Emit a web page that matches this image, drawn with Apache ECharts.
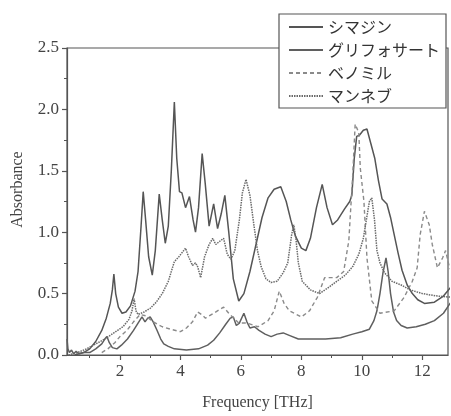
<!DOCTYPE html>
<html>
<head>
<meta charset="utf-8">
<script src="https://cdn.jsdelivr.net/npm/echarts@6/dist/echarts.min.js"></script>
<style>
html,body{margin:0;padding:0;background:#fff;}
#chart{width:451px;height:416px;}
</style>
</head>
<body>
<div id="chart"></div>
<script>
// Series names (legend order)
const seriesNames = ['シマジン', 'グリフォサート', 'ベノミル', 'マンネブ'];

// Tick values
const xMajorTicks = [2, 4, 6, 8, 10, 12];
const xMinorTicks = [1, 3, 5, 7, 9, 11];
const xRange = [0.25, 12.85];
const yRange = [0, 2.5];

// [frequency THz, absorbance]
const simazine = [
  [0.5,0.0],[0.8,0.02],[1.0,0.05],[1.2,0.11],[1.4,0.2],[1.55,0.3],[1.68,0.42],[1.75,0.53],[1.8,0.66],
  [1.86,0.5],[1.95,0.39],[2.07,0.34],[2.2,0.35],[2.35,0.4],[2.5,0.52],[2.6,0.68],[2.7,1.05],[2.77,1.33],
  [2.85,1.1],[2.95,0.8],[3.07,0.65],[3.17,0.85],[3.3,1.31],[3.4,1.1],[3.5,0.91],[3.6,1.05],[3.7,1.5],
  [3.8,2.06],[3.88,1.6],[3.97,1.33],[4.05,1.32],[4.17,1.2],[4.3,1.29],[4.42,1.1],[4.5,1.0],[4.6,1.2],
  [4.72,1.64],[4.82,1.4],[4.95,1.05],[5.1,1.23],[5.23,1.03],[5.35,1.15],[5.47,1.3],[5.6,1.0],[5.75,0.62],
  [5.93,0.44],[6.1,0.5],[6.3,0.68],[6.5,0.9],[6.7,1.12],[6.9,1.28],[7.1,1.35],[7.32,1.37],[7.5,1.25],
  [7.65,1.1],[7.8,0.97],[8.0,0.87],[8.15,0.85],[8.3,0.95],[8.5,1.2],[8.69,1.39],[8.85,1.2],[9.03,1.06],
  [9.2,1.1],[9.43,1.19],[9.6,1.25],[9.67,1.3],[9.75,1.6],[9.83,1.78],[9.92,1.79],[10.05,1.83],[10.17,1.84],
  [10.3,1.72],[10.43,1.6],[10.55,1.42],[10.67,1.27],[10.83,1.23],[10.95,1.12],[11.07,0.98],[11.2,0.83],
  [11.33,0.69],[11.5,0.57],[11.67,0.5],[11.85,0.45],[12.07,0.42],[12.4,0.43],[12.7,0.48],[13.0,0.57]
];
const glyphosate = [
  [0.25,0.13],[0.28,0.05],[0.33,0.02],[0.4,0.04],[0.47,0.01],[0.55,0.03],[0.65,0.01],[0.8,0.02],[1.0,0.02],
  [1.2,0.05],[1.4,0.09],[1.5,0.13],[1.57,0.15],[1.65,0.1],[1.75,0.06],[1.9,0.05],[2.05,0.08],[2.25,0.13],
  [2.45,0.2],[2.6,0.26],[2.73,0.31],[2.83,0.27],[2.92,0.3],[3.0,0.31],[3.1,0.27],[3.23,0.2],[3.35,0.13],
  [3.45,0.09],[3.6,0.07],[3.8,0.05],[4.2,0.04],[4.6,0.05],[4.9,0.08],[5.1,0.12],[5.3,0.18],[5.5,0.25],
  [5.65,0.3],[5.75,0.31],[5.85,0.24],[5.95,0.26],[6.1,0.34],[6.2,0.27],[6.3,0.22],[6.45,0.23],[6.6,0.2],
  [6.8,0.17],[7.0,0.15],[7.2,0.17],[7.4,0.18],[7.6,0.16],[7.9,0.13],[8.3,0.13],[8.8,0.13],[9.3,0.14],
  [9.7,0.17],[10.0,0.19],[10.25,0.21],[10.4,0.28],[10.5,0.36],[10.6,0.5],[10.7,0.67],[10.8,0.79],
  [10.87,0.68],[10.95,0.5],[11.05,0.35],[11.15,0.28],[11.3,0.24],[11.5,0.22],[11.8,0.23],[12.1,0.25],
  [12.4,0.28],[12.7,0.34],[13.0,0.45]
];
const benomyl = [
  [1.4,0.02],[1.6,0.05],[1.83,0.1],[2.0,0.15],[2.23,0.2],[2.45,0.27],[2.67,0.33],[2.85,0.32],[3.1,0.27],
  [3.4,0.23],[3.67,0.21],[4.0,0.19],[4.2,0.22],[4.4,0.27],[4.57,0.35],[4.7,0.33],[4.83,0.3],[5.1,0.34],
  [5.43,0.39],[5.6,0.34],[5.93,0.26],[6.2,0.26],[6.57,0.23],[6.9,0.28],[7.1,0.36],[7.27,0.52],[7.43,0.42],
  [7.6,0.36],[8.0,0.31],[8.27,0.36],[8.53,0.47],[8.77,0.63],[9.17,0.63],[9.4,0.68],[9.57,0.93],[9.7,1.47],
  [9.78,1.88],[9.9,1.81],[9.95,1.52],[10.07,1.25],[10.17,0.79],[10.33,0.44],[10.6,0.34],[11.07,0.36],
  [11.4,0.47],[11.67,0.6],[11.83,0.71],[11.93,0.98],[12.07,1.17],[12.23,1.06],[12.33,0.9],[12.5,0.71],
  [12.67,0.79],[12.77,0.85],[12.9,0.71],[13.0,0.68]
];
const maneb = [
  [0.3,0.0],[0.6,0.02],[0.9,0.05],[1.2,0.09],[1.5,0.13],[1.8,0.18],[2.1,0.23],[2.3,0.29],[2.4,0.36],
  [2.47,0.46],[2.53,0.36],[2.6,0.33],[2.8,0.35],[3.0,0.38],[3.2,0.43],[3.4,0.5],[3.6,0.6],[3.7,0.68],
  [3.8,0.76],[3.95,0.8],[4.17,0.87],[4.27,0.8],[4.4,0.73],[4.5,0.75],[4.57,0.72],[4.67,0.63],[4.8,0.8],
  [4.95,0.9],[5.07,0.95],[5.17,0.9],[5.27,0.92],[5.43,0.95],[5.55,0.82],[5.67,0.78],[5.8,0.85],[5.95,1.1],
  [6.05,1.32],[6.17,1.43],[6.3,1.3],[6.43,1.06],[6.55,0.85],[6.67,0.72],[6.83,0.62],[7.0,0.59],[7.2,0.6],
  [7.4,0.67],[7.55,0.75],[7.68,0.98],[7.75,1.06],[7.82,0.95],[7.9,0.75],[8.03,0.6],[8.3,0.53],[8.6,0.5],
  [8.9,0.55],[9.17,0.6],[9.45,0.65],[9.7,0.72],[9.9,0.82],[10.05,0.95],[10.15,1.1],[10.25,1.25],
  [10.33,1.28],[10.42,1.1],[10.5,0.85],[10.6,0.75],[10.75,0.67],[11.0,0.6],[11.3,0.57],[11.6,0.53],
  [12.0,0.5],[12.5,0.48],[13.0,0.47]
];

const serif = 'Liberation Serif';
const axisColor = '#555';

const chart = echarts.init(document.getElementById('chart'), null, {renderer: 'canvas'});
chart.setOption({
  backgroundColor: '#fff',
  animation: false,
  grid: {left: 67, right: 3, top: 48, bottom: 61, show: true, borderColor: axisColor, borderWidth: 1.2, backgroundColor: 'transparent'},
  legend: {
    orient: 'vertical', left: 279, top: 14, padding: [5, 6, 4, 9], itemGap: 7,
    itemWidth: 34, itemHeight: 14,
    backgroundColor: '#fff', borderColor: axisColor, borderWidth: 1.2,
    itemStyle: {opacity: 0},
    textStyle: {fontFamily: 'Noto Sans CJK JP', fontSize: 16, color: '#333', lineHeight: 16},
    data: seriesNames
  },
  xAxis: [{
    type: 'value', min: xRange[0], max: xRange[1],
    name: 'Frequency [THz]', nameLocation: 'middle', nameGap: 40,
    nameTextStyle: {fontFamily: serif, fontSize: 16, color: '#444'},
    axisLine: {show: true, onZero: false, lineStyle: {color: axisColor, width: 1.2}},
    axisTick: {show: true, length: 5, customValues: xMajorTicks, lineStyle: {color: axisColor, width: 1.2}},
    axisLabel: {customValues: xMajorTicks, fontFamily: serif, fontSize: 17, color: '#444', margin: 8},
    splitLine: {show: false}
  }, {
    type: 'value', min: xRange[0], max: xRange[1], position: 'bottom',
    axisLine: {show: false},
    axisTick: {show: true, length: 3, customValues: xMinorTicks, lineStyle: {color: axisColor, width: 1}},
    axisLabel: {show: false},
    splitLine: {show: false}
  }],
  yAxis: {
    type: 'value', min: yRange[0], max: yRange[1], interval: 0.5,
    name: 'Absorbance', nameLocation: 'middle', nameGap: 41,
    nameTextStyle: {fontFamily: serif, fontSize: 16, color: '#444', padding: [0, 0, 0, 24]},
    axisLine: {show: true, lineStyle: {color: axisColor, width: 1.2}},
    axisTick: {show: true, length: 5, lineStyle: {color: axisColor, width: 1.2}},
    minorTick: {show: true, splitNumber: 2, length: 3, lineStyle: {color: axisColor, width: 1}},
    axisLabel: {fontFamily: serif, fontSize: 17, color: '#444', margin: 8, formatter: v => v.toFixed(1)},
    splitLine: {show: false}
  },
  series: [
    {name: seriesNames[0], type: 'line', data: simazine, showSymbol: false, symbol: 'none',
     lineStyle: {color: '#555', width: 1.5}, itemStyle: {color: '#555'}},
    {name: seriesNames[1], type: 'line', data: glyphosate, showSymbol: false, symbol: 'none',
     lineStyle: {color: '#5f5f5f', width: 1.5}, itemStyle: {color: '#5f5f5f'}},
    {name: seriesNames[2], type: 'line', data: benomyl, showSymbol: false, symbol: 'none',
     lineStyle: {color: '#8a8a8a', width: 1.4, type: [4, 3]}, itemStyle: {color: '#8a8a8a'}},
    {name: seriesNames[3], type: 'line', data: maneb, showSymbol: false, symbol: 'none',
     lineStyle: {color: '#6a6a6a', width: 1.5, type: [1.5, 1]}, itemStyle: {color: '#6a6a6a'}}
  ]
});
</script>
</body>
</html>
